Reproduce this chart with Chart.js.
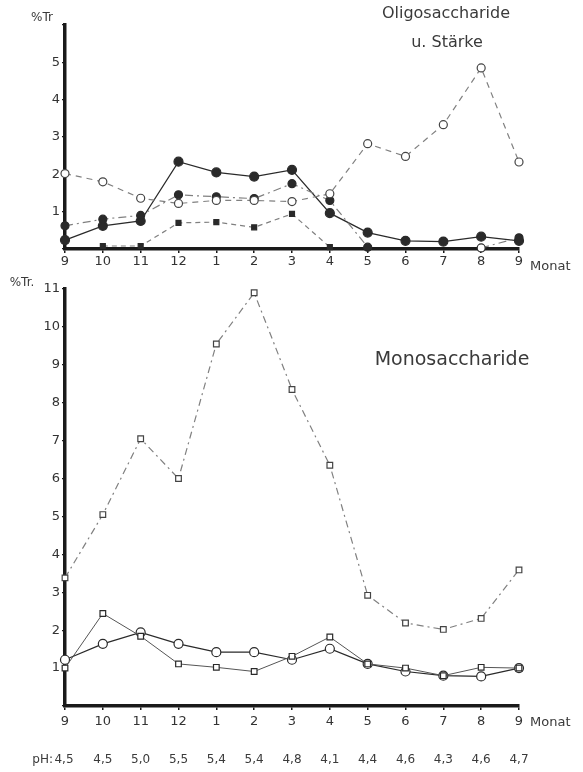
<!DOCTYPE html>
<html>
<head>
<meta charset="utf-8">
<script src="https://cdn.jsdelivr.net/npm/chart.js@4.4.1/dist/chart.umd.min.js"></script>
<style>
  body { margin: 0; background: #fff; }
  .box { position: absolute; left: 0; width: 583px; }
  #top { top: 0; height: 280px; }
  #bottom { top: 270px; height: 502px; }
</style>
</head>
<body>
<div class="box" id="top"><canvas id="chartTop"></canvas></div>
<div class="box" id="bottom"><canvas id="chartBottom"></canvas></div>
<script>
// Monate Sept. bis Sept.
const months = ['9', '10', '11', '12', '1', '2', '3', '4', '5', '6', '7', '8', '9'];
const pH = ['4,5', '4,5', '5,0', '5,5', '5,4', '5,4', '4,8', '4,1', '4,4', '4,6', '4,3', '4,6', '4,7'];

// Oligosaccharide u. Stärke (% Tr.)
const oligoSolid = [0.24, 0.62, 0.75, 2.34, 2.05, 1.94, 2.12, 0.96, 0.44, 0.22, 0.2, 0.33, 0.22];
const oligoDashDot = [0.62, 0.8, 0.9, 1.45, 1.4, 1.35, 1.75, 1.3, 0.05, null, null, 0.03, 0.3];
const oligoOpen = [2.02, 1.8, 1.36, 1.22, 1.3, 1.3, 1.27, 1.48, 2.82, 2.48, 3.33, 4.85, 2.33];
const oligoSquare = [null, 0.08, 0.08, 0.7, 0.72, 0.58, 0.94, 0.05, null, null, null, null, null];

// Monosaccharide (% Tr.)
const monoDash = [3.38, 5.05, 7.05, 6.0, 9.55, 10.9, 8.35, 6.35, 2.92, 2.19, 2.02, 2.31, 3.59];
const monoCircle = [1.22, 1.64, 1.94, 1.64, 1.42, 1.42, 1.22, 1.51, 1.11, 0.91, 0.8, 0.78, 1.0];
const monoSquare = [1.0, 2.44, 1.84, 1.11, 1.02, 0.91, 1.31, 1.82, 1.11, 1.0, 0.8, 1.02, 1.0];

const ink = '#2a2a2a';
const grey = '#808080';
const font = 'DejaVu Sans';

const textPlugin = {
  id: 'texts',
  afterDraw(chart, args, opts) {
    const c = chart.ctx;
    c.save();
    c.fillStyle = '#3a3a3a';
    c.textBaseline = 'middle';
    (opts.items || []).forEach(t => {
      c.font = t.font;
      c.textAlign = t.align || 'center';
      c.fillText(t.text, t.x, t.y);
    });
    if (opts.ph) {
      const xs = chart.scales.x;
      c.font = '12px ' + font;
      c.textAlign = 'center';
      pH.forEach((v, i) => c.fillText(v, xs.getPixelForValue(i) + (i === 0 ? -1 : 0), opts.ph));
      c.textAlign = 'right';
      c.fillText('pH:', xs.getPixelForValue(0) - 12, opts.ph);
    }
    c.restore();
  }
};

function ds(data, opt) {
  return Object.assign({
    data: data,
    borderColor: ink,
    borderWidth: 1.2,
    pointRadius: 4,
    pointHoverRadius: 4,
    pointBorderColor: ink,
    pointBorderWidth: 1.2,
    pointBackgroundColor: '#fff',
    tension: 0,
    clip: false,
    spanGaps: false
  }, opt);
}

function axes(yMax, xH, tickPad) {
  return {
    x: {
      type: 'category',
      offset: false,
      border: { display: true, width: 3.5, color: '#1a1a1a' },
      grid: { display: true, drawOnChartArea: false, drawTicks: true, tickLength: 4, color: '#1a1a1a', lineWidth: 1.5 },
      ticks: { color: '#333', font: { family: font, size: 13 }, padding: tickPad, maxRotation: 0, autoSkip: false },
      afterFit: s => { s.height = xH; }
    },
    y: {
      min: 0, max: yMax,
      border: { display: true, width: 3.5, color: '#1a1a1a' },
      grid: { display: true, drawOnChartArea: false, drawTicks: true, tickLength: 3, color: '#1a1a1a', lineWidth: 1.2 },
      ticks: {
        stepSize: 1, color: '#333', font: { family: font, size: 13 }, padding: 2,
        callback: v => (v === 0 || v > (yMax === 6 ? 5 : 11)) ? '' : v
      },
      afterFit: s => { s.width = 65; }
    }
  };
}

new Chart(document.getElementById('chartTop'), {
  type: 'line',
  data: {
    labels: months,
    datasets: [
      ds(oligoOpen, { borderColor: grey, borderDash: [6, 5], pointBorderColor: '#444' }),
      ds(oligoDashDot, { borderColor: grey, borderDash: [8, 4, 2, 4], pointBackgroundColor: [ink, ink, ink, ink, ink, ink, ink, ink, ink, ink, ink, '#fff', ink] }),
      ds(oligoSquare, { borderColor: grey, borderDash: [5, 4], pointStyle: 'rect', pointRadius: 3.5, pointBackgroundColor: ink }),
      ds(oligoSolid, { borderWidth: 1.3, pointBackgroundColor: ink, pointRadius: 4.5 })
    ]
  },
  options: {
    responsive: true,
    maintainAspectRatio: false,
    animation: false,
    layout: { padding: { top: 25, right: 64, left: 0, bottom: 0 } },
    scales: axes(6, 31, 1),
    plugins: {
      legend: { display: false },
      tooltip: { enabled: false },
      texts: {
        items: [
          { text: '%Tr', x: 42, y: 18, font: '12px ' + font },
          { text: 'Oligosaccharide', x: 446, y: 14, font: '16px ' + font },
          { text: 'u. Stärke', x: 447, y: 43, font: '16px ' + font },
          { text: 'Monat', x: 530, y: 267, font: '13px ' + font, align: 'left' }
        ]
      }
    }
  },
  plugins: [textPlugin]
});

new Chart(document.getElementById('chartBottom'), {
  type: 'line',
  data: {
    labels: months,
    datasets: [
      ds(monoDash, { borderColor: grey, borderDash: [7, 4, 2, 4], pointStyle: 'rect', pointRadius: 4, pointBorderColor: '#444' }),
      ds(monoSquare, { borderColor: '#555', borderWidth: 1, pointStyle: 'rect', pointRadius: 4 }),
      ds(monoCircle, { borderColor: ink, borderWidth: 1.2, pointRadius: 4.5 })
    ]
  },
  options: {
    responsive: true,
    maintainAspectRatio: false,
    animation: false,
    layout: { padding: { top: 19, right: 64, left: 0, bottom: 0 } },
    scales: axes(11, 66, 4),
    plugins: {
      legend: { display: false },
      tooltip: { enabled: false },
      texts: {
        ph: 490,
        items: [
          { text: '%Tr.', x: 22, y: 13, font: '12px ' + font },
          { text: 'Monosaccharide', x: 452, y: 90, font: '19px ' + font },
          { text: 'Monat', x: 530, y: 453, font: '13px ' + font, align: 'left' }
        ]
      }
    }
  },
  plugins: [textPlugin]
});
</script>
</body>
</html>
